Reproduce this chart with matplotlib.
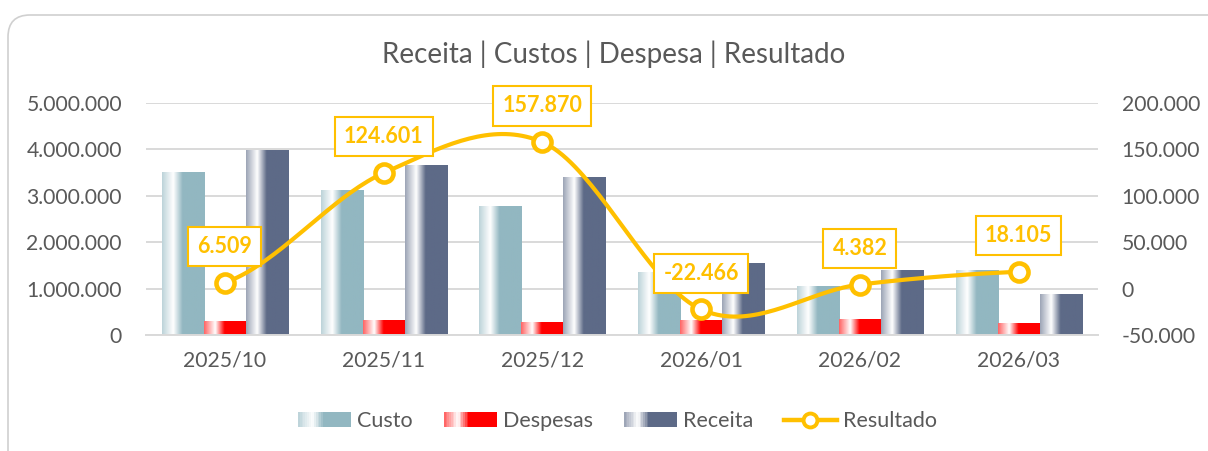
import numpy as np
import matplotlib
matplotlib.use("Agg")
import matplotlib.pyplot as plt
from matplotlib.patches import Rectangle, FancyBboxPatch
from matplotlib.lines import Line2D
from matplotlib.legend_handler import HandlerBase
from matplotlib.transforms import IdentityTransform
from matplotlib.ticker import FuncFormatter
from matplotlib.colors import to_rgb

plt.rcParams['font.family'] = ['Lato', 'DejaVu Sans']

# ---------------- data ----------------
categories = ["2025/10", "2025/11", "2025/12", "2026/01", "2026/02", "2026/03"]
custo = [3510000, 3125000, 2780000, 1340000, 1040000, 1380000]
despesas = [290000, 310000, 280000, 310000, 340000, 245000]
receita = [3970000, 3660000, 3400000, 1540000, 1390000, 880000]
resultado = [6509, 124601, 157870, -22466, 4382, 18105]
title = "Receita | Custos | Despesa | Resultado"

C_CUSTO = "#92B7C1"
C_DESP = "#FF0000"
C_REC = "#5D6A87"
C_LINE = "#FFC000"
C_TXT = "#595959"
C_GRID = "#D9D9D9"


def fmt_pt(v, pos=None):
    s = f"{abs(int(round(v))):,}".replace(",", ".")
    return ("-" if v < 0 else "") + s


def gradient_colors(color, n=64):
    c = np.array(to_rgb(color))
    w = np.ones(3)
    stops = [(0.0, c * 0.6 + w * 0.4), (0.26, w), (0.48, c), (1.0, c)]
    xs = np.linspace(0, 1, n)
    out = np.zeros((n, 3))
    for i, x in enumerate(xs):
        for (a, ca), (b, cb) in zip(stops[:-1], stops[1:]):
            if a <= x <= b:
                t = (x - a) / (b - a) if b > a else 0
                out[i] = ca * (1 - t) + cb * t
                break
    return out


W, H = 1208, 451
fig = plt.figure(figsize=(W / 100, H / 100), dpi=100)

# outer rounded frame
frame = FancyBboxPatch((8, -40), 1240, 451 - 15 + 40,
                       boxstyle="round,pad=0,rounding_size=22",
                       transform=IdentityTransform(), facecolor="white",
                       edgecolor="#D0D0D0", linewidth=1.2, zorder=0)
fig.add_artist(frame)

ax = fig.add_axes([145.6 / W, 116 / H, (1098 - 145.6) / W, (335 - 103) / H])
ax.set_facecolor("none")
x = np.arange(len(categories))
bw = 0.265

series = [(custo, C_CUSTO, -bw), (despesas, C_DESP, 0.0), (receita, C_REC, bw)]
for vals, col, off in series:
    bars = ax.bar(x + off, vals, width=bw, color=col, zorder=2)
    grad = gradient_colors(col)[None, :, :]
    for b in bars:
        x0, y0 = b.get_x(), b.get_y()
        ax.imshow(grad, extent=[x0, x0 + b.get_width(), y0, y0 + b.get_height()],
                  aspect='auto', interpolation='bilinear', zorder=2.1)
ax.set_xlim(-0.5, len(categories) - 0.5)
ax.set_ylim(0, 5000000)

ax.set_yticks(np.arange(0, 5000001, 1000000))
ax.yaxis.set_major_formatter(FuncFormatter(fmt_pt))
ax.grid(axis='y', color=C_GRID, linewidth=1.4, zorder=0)
ax.set_axisbelow(True)
for s in ax.spines.values():
    s.set_visible(False)
ax.spines['bottom'].set_visible(True)
ax.spines['bottom'].set_color(C_GRID)
ax.spines['bottom'].set_linewidth(1.4)
ax.set_xticks(x)
ax.set_xticklabels(categories)
ax.tick_params(axis='both', length=0, labelsize=15.2, colors=C_TXT)
ax.tick_params(axis='y', pad=17)
ax.tick_params(axis='x', pad=11)

# secondary axis for Resultado
ax2 = ax.twinx()
ax2.set_ylim(-50000, 200000)
ax2.set_yticks(np.arange(-50000, 200001, 50000))
ax2.yaxis.set_major_formatter(FuncFormatter(fmt_pt))
for s in ax2.spines.values():
    s.set_visible(False)
ax2.tick_params(axis='y', length=0, labelsize=15.2, colors=C_TXT, pad=17)

# smooth (Catmull-Rom) rendering through the data points
r = np.array(resultado, dtype=float)
P = np.concatenate([[r[0]], r, [r[-1]]])
xs_s, ys_s = [], []
for i in range(len(r) - 1):
    p0, p1, p2, p3 = P[i], P[i + 1], P[i + 2], P[i + 3]
    m1 = (p2 - p0) / 2
    m2 = (p3 - p1) / 2
    t = np.linspace(0, 1, 40)
    h00 = 2 * t**3 - 3 * t**2 + 1
    h10 = t**3 - 2 * t**2 + t
    h01 = -2 * t**3 + 3 * t**2
    h11 = t**3 - t**2
    xs_s.append(x[i] + t)
    ys_s.append(h00 * p1 + h10 * m1 + h01 * p2 + h11 * m2)
ax2.plot(np.concatenate(xs_s), np.concatenate(ys_s), color=C_LINE, lw=3.0,
         solid_capstyle='round', zorder=3)
ax2.plot(x, r, linestyle='none', marker='o', markersize=13, markerfacecolor='white',
         markeredgecolor=C_LINE, markeredgewidth=3.3, zorder=4)
for xi, v in zip(x, resultado):
    ax2.annotate(fmt_pt(v), (xi, v), xytext=(0, 26), textcoords='offset points',
                 ha='center', va='center', fontsize=15.5, fontweight='bold', color=C_LINE,
                 bbox=dict(boxstyle='square,pad=0.42', facecolor='white',
                           edgecolor=C_LINE, linewidth=1.5), zorder=5)

fig.text(613.5 / W, 1 - 54 / H, title, ha='center', va='center', fontsize=20, color=C_TXT)


# legend with gradient patches
class GradHandler(HandlerBase):
    def __init__(self, color):
        super().__init__()
        self.color = color

    def create_artists(self, legend, orig_handle, xdescent, ydescent, width, height,
                       fontsize, trans):
        cols = gradient_colors(self.color, 30)
        arts = []
        n = len(cols)
        for i, c in enumerate(cols):
            rct = Rectangle((-xdescent + width * i / n, -ydescent), width / n * 1.05, height,
                            facecolor=c, edgecolor='none', transform=trans)
            arts.append(rct)
        return arts


h_c = Rectangle((0, 0), 1, 1)
h_d = Rectangle((0, 0), 1, 1)
h_r = Rectangle((0, 0), 1, 1)
h_l = Line2D([], [], color=C_LINE, lw=3.2, marker='o', markersize=10,
             markerfacecolor='white', markeredgecolor=C_LINE, markeredgewidth=2.8)
leg = fig.legend([h_c, h_d, h_r, h_l], ["Custo", "Despesas", "Receita", "Resultado"],
                 handler_map={h_c: GradHandler(C_CUSTO), h_d: GradHandler(C_DESP),
                              h_r: GradHandler(C_REC)},
                 loc='center', bbox_to_anchor=(617.5 / W, 1 - 421 / H), ncol=4, frameon=False,
                 fontsize=15.5, handlelength=2.45, handleheight=0.65, handletextpad=0.28,
                 columnspacing=1.45, labelcolor=C_TXT)

fig.savefig("out.png", dpi=100)
